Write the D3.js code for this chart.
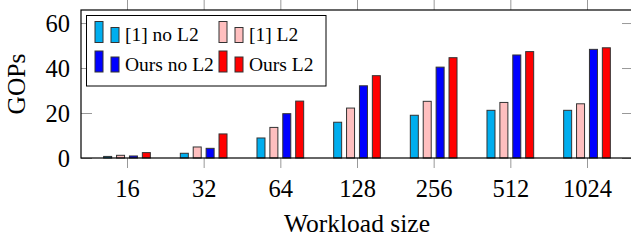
<!DOCTYPE html>
<html>
<head>
<meta charset="utf-8">
<script src="https://cdn.jsdelivr.net/npm/d3@7"></script>
<style>
  body { margin: 0; background: #fff; }
  svg { display: block; font-family: "Liberation Serif", "Times New Roman", Times, "DejaVu Serif", serif; }
</style>
</head>
<body>
<svg id="chart" width="631" height="245"></svg>
<script>
// data
const sizes = ["16", "32", "64", "128", "256", "512", "1024"];
const series = ["[1] no L2", "[1] L2", "Ours no L2", "Ours L2"];
const colors = ["#00aeef", "#ffbfbf", "#0000ff", "#ff0000"];
const ref1NoL2 = [0.7, 2.1, 8.9, 15.9, 19.0, 21.2, 21.2];
const ref1L2 = [1.2, 4.9, 13.6, 22.2, 25.2, 24.7, 24.1];
const oursNoL2 = [0.9, 4.3, 19.7, 32.1, 40.4, 45.8, 48.3];
const oursL2 = [2.4, 10.7, 25.3, 36.6, 44.6, 47.3, 49.0];
const yTicks = [0, 20, 40, 60];

const values = [ref1NoL2, ref1L2, oursNoL2, oursL2];
const serif = '"Liberation Serif", "Times New Roman", Times, "DejaVu Serif", serif';

const svg = d3.select("#chart");
const plotLeft = 81, plotRight = 633, plotTop = 10, plotBottom = 158;

// scales
const x = d3.scalePoint().domain(sizes).range([plotLeft, plotRight]).padding(0.6);
const xSub = d3.scaleBand().domain(series).range([-25.8, 25.8])
    .paddingInner(0.38).paddingOuter(0.19);
const y = d3.scaleLinear().domain([0, 65.8]).range([plotBottom, plotTop]);

// bars
const bars = [];
sizes.forEach((s, i) => {
    series.forEach((name, j) => {
        bars.push({ size: s, name: name, value: values[j][i], color: colors[j] });
    });
});

svg.append("g").selectAll("rect")
    .data(bars)
    .enter().append("rect")
    .attr("x", d => x(d.size) + xSub(d.name))
    .attr("y", d => y(d.value))
    .attr("width", xSub.bandwidth())
    .attr("height", d => y(0) - y(d.value))
    .attr("fill", d => d.color)
    .attr("stroke", "#333")
    .attr("stroke-width", 1);

// ticks (gray)
const tickColor = "#999";
const gLeft = svg.append("g").attr("transform", `translate(${plotLeft},0)`)
    .call(d3.axisLeft(y).tickValues(yTicks).tickSize(-11).tickPadding(11));
const gRight = svg.append("g").attr("transform", `translate(${plotRight},0)`)
    .call(d3.axisRight(y).tickValues(yTicks).tickSize(-11).tickFormat(""));
const gBottom = svg.append("g").attr("transform", `translate(0,${plotBottom})`)
    .call(d3.axisBottom(x).tickSize(10).tickPadding(11));
const gTop = svg.append("g").attr("transform", `translate(0,${plotTop})`)
    .call(d3.axisTop(x).tickSize(10).tickFormat(""));

[gLeft, gRight, gBottom, gTop].forEach(g => {
    g.attr("font-family", null);
    g.select(".domain").remove();
    g.selectAll(".tick line").attr("stroke", tickColor).attr("stroke-width", 1);
    g.selectAll(".tick text")
        .attr("fill", "#000")
        .style("font-family", serif)
        .style("font-size", "24.5px");
});
gLeft.selectAll(".tick text").attr("dy", "0.34em");
gBottom.selectAll(".tick text").attr("dy", "0.74em");

// frame
svg.append("rect")
    .attr("x", plotLeft).attr("y", plotTop)
    .attr("width", plotRight - plotLeft).attr("height", plotBottom - plotTop)
    .attr("fill", "none").attr("stroke", "#000").attr("stroke-width", 1.2);

// axis titles
svg.append("text")
    .attr("transform", `translate(25,${(plotTop + plotBottom) / 2}) rotate(-90)`)
    .attr("text-anchor", "middle")
    .style("font-size", "25.5px")
    .text("GOPs");

svg.append("text")
    .attr("x", (plotLeft + plotRight) / 2)
    .attr("y", 232)
    .attr("text-anchor", "middle")
    .style("font-size", "25.5px")
    .text("Workload size");

// legend
const legend = svg.append("g");
legend.append("rect")
    .attr("x", 86.5).attr("y", 15.5).attr("width", 239.5).attr("height", 70.5)
    .attr("fill", "#fff").attr("stroke", "#000").attr("stroke-width", 1);

const legendPos = [[95, 21.5], [219, 21.5], [95, 51], [219, 51]];
series.forEach((name, j) => {
    const [lx, ly] = legendPos[j];
    const item = legend.append("g").attr("transform", `translate(${lx},${ly})`);
    item.append("rect").attr("x", 0).attr("y", 0).attr("width", 8).attr("height", 21)
        .attr("fill", colors[j]).attr("stroke", "#333");
    item.append("rect").attr("x", 16).attr("y", 6).attr("width", 8).attr("height", 15)
        .attr("fill", colors[j]).attr("stroke", "#333");
    item.append("text")
        .attr("x", 30).attr("y", 19.8)
        .style("font-size", "19.5px")
        .text(name);
});
</script>
</body>
</html>
